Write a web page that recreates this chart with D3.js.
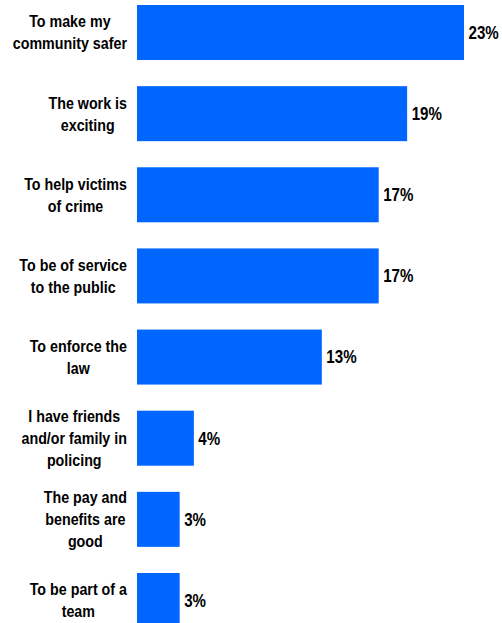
<!DOCTYPE html>
<html>
<head>
<meta charset="utf-8">
<script src="https://cdn.jsdelivr.net/npm/d3@7"></script>
<style>
  html, body { margin: 0; padding: 0; background: #fff; }
  svg text { font-family: "Liberation Sans", Arial, sans-serif; font-weight: bold; fill: #000; }
</style>
</head>
<body>
<svg id="chart" width="502" height="623"></svg>
<script>
// Reasons for joining, share of respondents (%)
const reasons = [
  ["To make my", "community safer"],
  ["The work is", "exciting"],
  ["To help victims", "of crime"],
  ["To be of service", "to the public"],
  ["To enforce the", "law"],
  ["I have friends", "and/or family in", "policing"],
  ["The pay and", "benefits are", "good"],
  ["To be part of a", "team"]
];
const shares = [23, 19, 17, 17, 13, 4, 3, 3];
const valueLabels = ["23%", "19%", "17%", "17%", "13%", "4%", "3%", "3%"];

const barLeft = 137, labelRight = 127;
const fontSize = 17, lineHeight = 22;
const squeeze = 0.84; // condensed look for all labels

const svg = d3.select("#chart");
const ids = d3.range(reasons.length);

const x = d3.scaleLinear().domain([0, 23]).range([barLeft, 464]);
const y = d3.scaleBand().domain(ids).range([5, 628]).paddingInner(0.322).paddingOuter(0);

// bars
svg.append("g").selectAll("rect").data(ids).join("rect")
  .attr("x", x(0))
  .attr("y", i => y(i))
  .attr("width", i => x(shares[i]) - x(0))
  .attr("height", y.bandwidth())
  .attr("fill", "#0066FF");

// value labels
svg.append("g").selectAll("g").data(ids).join("g")
  .attr("transform", i => `translate(${x(shares[i]) + 4.5},${y(i) + y.bandwidth() / 2}) scale(${squeeze},1)`)
  .append("text")
  .attr("dy", "0.35em")
  .attr("font-size", 18)
  .text(i => valueLabels[i]);

// category labels: block right-aligned, lines centred within block
const lab = svg.append("g");
ids.forEach(i => {
  const lines = reasons[i];
  const g = lab.append("g");
  const ts = lines.map(l => g.append("text")
    .attr("font-size", fontSize)
    .attr("text-anchor", "middle")
    .text(l));
  const maxW = d3.max(ts, t => t.node().getComputedTextLength()) * squeeze;
  const cx = labelRight - maxW / 2;
  const cy = y(i) + y.bandwidth() / 2;
  const n = lines.length;
  g.attr("transform", `translate(${cx},${cy}) scale(${squeeze},1)`);
  ts.forEach((t, k) => {
    t.attr("x", 0)
     .attr("y", (k - (n - 1) / 2) * lineHeight)
     .attr("dy", "0.35em");
  });
});
</script>
</body>
</html>
